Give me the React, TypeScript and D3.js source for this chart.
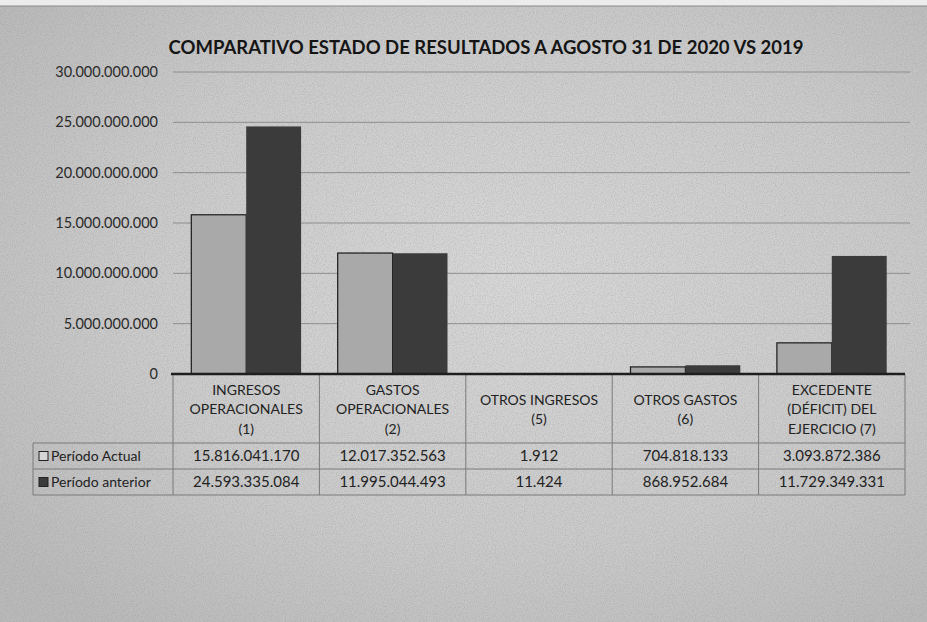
import React from "react";
import * as d3 from "d3";

const title = "COMPARATIVO ESTADO DE RESULTADOS A AGOSTO 31 DE 2020 VS 2019";
const categories: string[][] = [
  ["INGRESOS", "OPERACIONALES", "(1)"],
  ["GASTOS", "OPERACIONALES", "(2)"],
  ["OTROS INGRESOS", "(5)"],
  ["OTROS GASTOS", "(6)"],
  ["EXCEDENTE", "(DÉFICIT) DEL", "EJERCICIO  (7)"],
];
const seriesNames = ["Período  Actual", "Período  anterior"];
const periodoActual = [15816041170, 12017352563, 1912, 704818133, 3093872386];
const periodoAnterior = [24593335084, 11995044493, 11424, 868952684, 11729349331];
const yTicks = [0, 5e9, 10e9, 15e9, 20e9, 25e9, 30e9];

const W = 927;
const H = 622;
const FONT = "Lato, 'Open Sans', sans-serif";

const locale = d3.formatLocale({
  decimal: ",",
  thousands: ".",
  grouping: [3],
  currency: ["", ""],
});
const fmt = locale.format(",d");

export default function App() {
  const left = 173;
  const right = 905;
  const y0 = 374;
  const yTop = 72;
  const x = d3
    .scaleBand<number>()
    .domain(categories.map((_, i) => i))
    .range([left, right])
    .paddingInner(0.25)
    .paddingOuter(0.125);
  const xs = d3
    .scaleBand<number>()
    .domain([0, 1])
    .range([0, x.bandwidth()]);
  const y = d3.scaleLinear().domain([0, 30e9]).range([y0, yTop]);
  const series = [periodoActual, periodoAnterior];
  const fills = ["#a9a9a9", "#3b3b3b"];

  const step = x.step();
  const colEdges = categories.map((_, i) => left + i * step).concat([right]);
  const legendLeft = 33;
  const rowTops = [y0, 443, 469, 495];

  return (
    <svg
      width={W}
      height={H}
      style={{ position: "absolute", left: 0, top: 0, display: "block" }}
      fontFamily={FONT}
    >
      <defs>
        <radialGradient id="paper" cx="0.55" cy="0.45" r="0.7">
          <stop offset="0" stopColor="#d8d8d8" />
          <stop offset="0.6" stopColor="#cbcbcb" />
          <stop offset="1" stopColor="#bababa" />
        </radialGradient>
        <filter id="noise" x="0" y="0" width="100%" height="100%">
          <feTurbulence type="fractalNoise" baseFrequency="0.9" numOctaves="2" seed="3" />
          <feColorMatrix
            type="matrix"
            values="0 0 0 0 0.25  0 0 0 0 0.25  0 0 0 0 0.25  1.4 0 0 0 -0.55"
          />
        </filter>
      </defs>
      <rect x={0} y={0} width={W} height={H} fill="url(#paper)" />
      <rect x={0} y={0} width={W} height={H} filter="url(#noise)" opacity={0.45} />
      <rect x={0} y={0} width={W} height={6} fill="#ececec" />
      <line x1={0} x2={W} y1={6} y2={6} stroke="#8a8a8a" strokeWidth={1} />

      <text
        x={486}
        y={54}
        textAnchor="middle"
        fontSize={18.5}
        fontWeight="bold"
        fill="#151515"
      >
        {title}
      </text>

      {yTicks.map((t) => (
        <g key={t}>
          {t > 0 && (
            <line
              x1={left}
              x2={right + 5}
              y1={y(t)}
              y2={y(t)}
              stroke="#8e8e8e"
              strokeWidth={1}
            />
          )}
          <text
            x={158}
            y={y(t)}
            dy="0.35em"
            textAnchor="end"
            fontSize={14.5}
            fill="#2a2a2a"
          >
            {fmt(t)}
          </text>
        </g>
      ))}

      {series.map((vals, s) =>
        vals.map((v, i) => {
          const bx = (x(i) as number) + (xs(s) as number);
          const by = y(v);
          return (
            <rect
              key={`${s}-${i}`}
              x={bx}
              y={by}
              width={xs.bandwidth()}
              height={y0 - by}
              fill={fills[s]}
              stroke={s === 0 ? "#1a1a1a" : "none"}
              strokeWidth={1.2}
            />
          );
        })
      )}

      {/* table */}
      <g stroke="#7a7a7a" strokeWidth={1} fill="none">
        {colEdges.map((cx, i) => (
          <line key={`c${i}`} x1={cx} x2={cx} y1={y0} y2={rowTops[3]} />
        ))}
        <line x1={legendLeft} x2={legendLeft} y1={rowTops[1]} y2={rowTops[3]} />
        <line x1={legendLeft} x2={right} y1={rowTops[1]} y2={rowTops[1]} />
        <line x1={legendLeft} x2={right} y1={rowTops[2]} y2={rowTops[2]} />
        <line x1={legendLeft} x2={right} y1={rowTops[3]} y2={rowTops[3]} />
      </g>
      <line x1={left - 2} x2={right} y1={y0} y2={y0} stroke="#1e1e1e" strokeWidth={2.5} />

      {categories.map((lines, i) => {
        const cx = (x(i) as number) + x.bandwidth() / 2;
        const mid = (rowTops[0] + rowTops[1]) / 2 + 1;
        const lh = 19.5;
        const start = mid - ((lines.length - 1) * lh) / 2;
        return (
          <text key={`h${i}`} textAnchor="middle" fontSize={14} fill="#222">
            {lines.map((ln, k) => (
              <tspan key={k} x={cx} y={start + k * lh} dy="0.35em">
                {ln}
              </tspan>
            ))}
          </text>
        );
      })}

      {series.map((vals, s) => {
        const ry = (rowTops[s + 1] + rowTops[s + 2]) / 2;
        return (
          <g key={`r${s}`}>
            <rect
              x={legendLeft + 6}
              y={ry - 4.5}
              width={9}
              height={9}
              fill={s === 0 ? "#d6d6d6" : fills[1]}
              stroke="#222"
              strokeWidth={1}
            />
            <text x={legendLeft + 18} y={ry} dy="0.35em" fontSize={14} fill="#222">
              {seriesNames[s]}
            </text>
            {vals.map((v, i) => (
              <text
                key={i}
                x={(x(i) as number) + x.bandwidth() / 2}
                y={ry}
                dy="0.35em"
                textAnchor="middle"
                fontSize={15}
                fill="#222"
              >
                {fmt(v)}
              </text>
            ))}
          </g>
        );
      })}
    </svg>
  );
}
